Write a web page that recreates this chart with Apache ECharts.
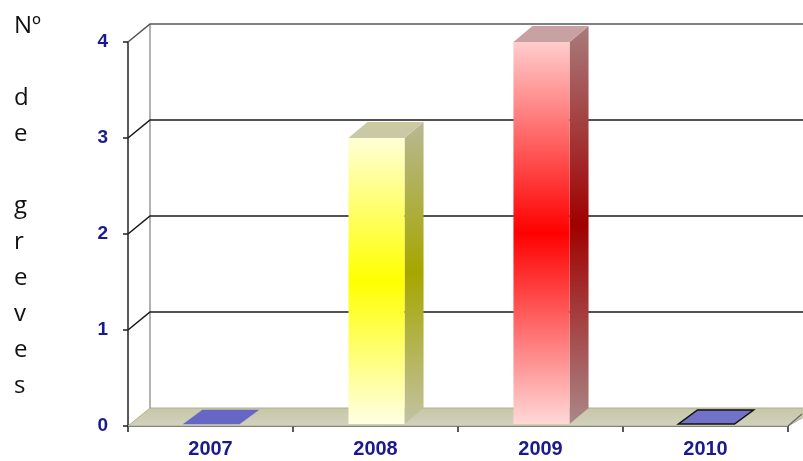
<!DOCTYPE html>
<html>
<head>
<meta charset="utf-8">
<script src="https://cdn.jsdelivr.net/npm/echarts@6/dist/echarts.min.js"></script>
<style>html,body{margin:0;padding:0;background:#fff;}#c{width:803px;height:461px;}</style>
</head>
<body>
<div id="c"></div>
<script>
var categories = ['2007', '2008', '2009', '2010'];
var values = [0, 3, 4, 0];
var yTicks = [0, 1, 2, 3, 4];
var yName = 'Nº\n\nd\ne\n\ng\nr\ne\nv\ne\ns';

var DX = 22, DY = -18;     // back-wall offset
var BDX = 19, BDY = -16;   // bar depth

var barStyles = [
  {flat: '#6666c4', stroke: null},
  {front: ['#ffffd6', '#ffff00', '#ffffe4'], side: ['#b8b894', '#a6a600', '#c2c2a4'], top: '#c9c9a3'},
  {front: ['#ffcccc', '#ff0000', '#ffd8d8'], side: ['#a87c7c', '#a00000', '#aa8888'], top: '#c8a2a2'},
  {flat: '#7272c8', stroke: '#111'}
];

function vgrad(c) {
  return new echarts.graphic.LinearGradient(0, 0, 0, 1, [
    {offset: 0, color: c[0]}, {offset: 0.5, color: c[1]}, {offset: 1, color: c[2]}
  ]);
}

var chart = echarts.init(document.getElementById('c'));
chart.setOption({
  animation: false,
  title: {
    text: yName, left: 9, top: 3,
    textStyle: {fontFamily: 'Open Sans', fontSize: 24, fontWeight: 'normal', color: '#111', lineHeight: 36}
  },
  grid: {left: 128, right: 15, top: 42, bottom: 35},
  xAxis: {
    type: 'category', data: categories,
    axisLine: {show: true, lineStyle: {color: '#222', width: 1.5}},
    axisTick: {show: true, length: 6, lineStyle: {color: '#222', width: 1.5}},
    axisLabel: {color: '#1a1a8c', fontWeight: 'bold', fontSize: 20, fontFamily: 'Liberation Sans', margin: 13}
  },
  yAxis: {
    type: 'value', min: 0, max: 4, interval: 1,
    axisLine: {show: true, lineStyle: {color: '#222', width: 1.5}},
    axisTick: {show: true, length: 5, lineStyle: {color: '#222', width: 1.5}},
    splitLine: {show: false},
    axisLabel: {color: '#1a1a8c', fontWeight: 'bold', fontSize: 19, fontFamily: 'Liberation Sans', margin: 20}
  },
  series: [
    {
      type: 'custom', z: 1, silent: true,
      data: yTicks.map(function (t) { return [0, t]; }),
      renderItem: function (params, api) {
        var cs = params.coordSys;
        var v = api.value(1);
        var p = api.coord([0, v]);
        var x0 = cs.x, y = p[1];
        var right = cs.x + cs.width;
        var children = [];
        if (v === 0) {
          children.push({
            type: 'polygon', z2: 0,
            shape: {points: [[x0, y], [right, y], [right + DX + 10, y + DY], [x0 + DX, y + DY]]},
            style: {fill: new echarts.graphic.LinearGradient(0, 0, 0, 1, [
              {offset: 0, color: '#c6c6a6'}, {offset: 1, color: '#d2d2c0'}]), stroke: '#b0b090', lineWidth: 1}
          });
          var yTop = api.coord([0, yTicks[yTicks.length - 1]])[1];
          children.push({
            type: 'line', z2: 1,
            shape: {x1: x0 + DX, y1: yTop + DY, x2: x0 + DX, y2: y + DY},
            style: {stroke: '#999', lineWidth: 1.5}
          });
          children.push({
            type: 'line', z2: 2,
            shape: {x1: right, y1: y, x2: right + DX - 8, y2: y + DY + 6},
            style: {stroke: '#666', lineWidth: 1.2}
          });
        } else {
          children.push({
            type: 'polyline', z2: 2,
            shape: {points: [[x0, y], [x0 + DX, y + DY], [right + 40, y + DY]]},
            style: {stroke: v === 4 ? '#555' : '#1a1a1a', lineWidth: 1.6, fill: null}
          });
        }
        return {type: 'group', children: children};
      }
    },
    {
      type: 'custom', z: 3, silent: true,
      data: values.map(function (v, i) { return [i, v]; }),
      renderItem: function (params, api) {
        var i = api.value(0), v = api.value(1);
        var st = barStyles[i];
        var base = api.coord([i, 0]);
        var w = api.size([1, 0])[0] * 0.34;
        var x0 = base[0] - w / 2 + 1;
        var yb = base[1] - 2;
        if (v === 0) {
          return {
            type: 'polygon',
            shape: {points: [[x0, yb], [x0 + w, yb], [x0 + w + BDX, yb + BDY + 2], [x0 + BDX, yb + BDY + 2]]},
            style: {fill: st.flat, stroke: st.stroke || st.flat, lineWidth: st.stroke ? 1.5 : 0.5}
          };
        }
        var yt = api.coord([i, v])[1];
        return {
          type: 'group',
          children: [
            {type: 'polygon', shape: {points: [[x0 + w, yb], [x0 + w + BDX, yb + BDY], [x0 + w + BDX, yt + BDY], [x0 + w, yt]]},
              style: {fill: vgrad(st.side)}},
            {type: 'polygon', shape: {points: [[x0, yt], [x0 + w, yt], [x0 + w + BDX, yt + BDY], [x0 + BDX, yt + BDY]]},
              style: {fill: st.top}},
            {type: 'rect', shape: {x: x0, y: yt, width: w, height: yb - yt},
              style: {fill: vgrad(st.front)}}
          ]
        };
      }
    }
  ]
});
</script>
</body>
</html>
